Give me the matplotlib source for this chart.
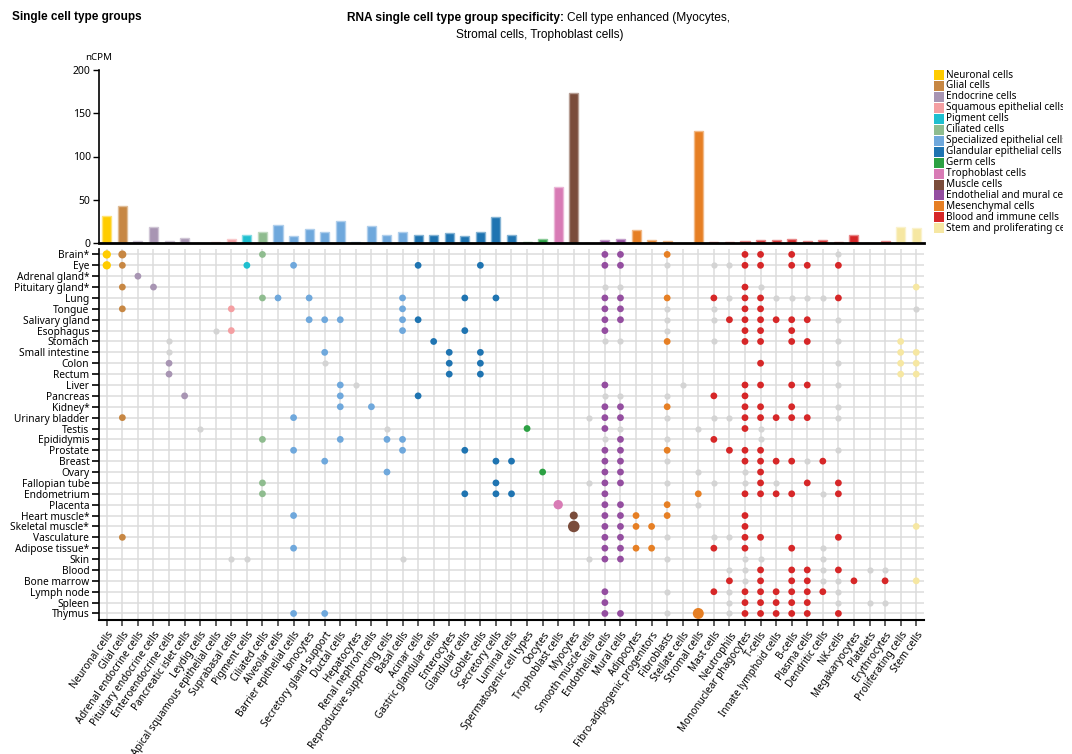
import numpy as np
import matplotlib
matplotlib.use("Agg")
import matplotlib.pyplot as plt
from matplotlib.colors import to_rgb
from matplotlib.patches import Rectangle
from matplotlib.transforms import Bbox, TransformedBbox

plt.rcParams['font.family'] = ['Noto Sans', 'DejaVu Sans']
TITLE_FONT = ['Liberation Sans', 'DejaVu Sans']

# ---- data ----
cell_types = [
    "Neuronal cells", "Glial cells", "Adrenal endocrine cells", "Pituitary endocrine cells",
    "Enteroendocrine cells", "Pancreatic islet cells", "Leydig cells",
    "Apical squamous epithelial cells", "Suprabasal cells", "Pigment cells", "Ciliated cells",
    "Alveolar cells", "Barrier epithelial cells", "Ionocytes", "Secretory gland support",
    "Ductal cells", "Hepatocytes", "Renal nephron cells", "Reproductive supporting cells",
    "Basal cells", "Acinar cells", "Gastric glandular cells", "Enterocytes", "Glandular cells",
    "Goblet cells", "Secretory cells", "Luminal cells", "Spermatogenic cell types", "Oocytes",
    "Trophoblast cells", "Myocytes", "Smooth muscle cells", "Endothelial cells", "Mural cells",
    "Adipocytes", "Fibro-adipogenic progenitors", "Fibroblasts", "Stellate cells",
    "Stromal cells", "Mast cells", "Neutrophils", "Mononuclear phagocytes", "T-cells",
    "Innate lymphoid cells", "B-cells", "Plasma cells", "Dendritic cells", "NK-cells",
    "Megakaryocytes", "Platelets", "Erythrocytes", "Proliferating cells", "Stem cells",
]

group_names = [
    "Neuronal cells", "Glial cells", "Endocrine cells", "Squamous epithelial cells",
    "Pigment cells", "Ciliated cells", "Specialized epithelial cells",
    "Glandular epithelial cells", "Germ cells", "Trophoblast cells", "Muscle cells",
    "Endothelial and mural cells", "Mesenchymal cells", "Blood and immune cells",
    "Stem and proliferating cells",
]
group_colors = [
    "#FFCC00", "#C78743", "#A895B3", "#F49FA2", "#1FBFCF", "#8FBC8F", "#6FA8DC",
    "#1F74B1", "#2CA043", "#D87BB5", "#7A4C3B", "#944EA0", "#E67F24", "#D62728",
    "#F6E7A2",
]
group_counts = [1, 1, 5, 2, 1, 1, 9, 7, 2, 1, 2, 2, 5, 12, 2]

ncpm = [31.5, 43, 2, 18.5, 2.3, 5.4, 0.3, 1, 5, 9.2, 12.3, 20.8, 8.5, 16, 12.7, 25,
        1.2, 19.6, 9.2, 12.7, 8.8, 9.6, 11.2, 8.5, 12.3, 30, 9, 1.5, 5, 64.6, 173,
        0.2, 3.5, 5, 15, 3.5, 2, 0, 129, 1.2, 0.8, 2.3, 3.5, 3.5, 5, 2.7, 3.5, 1.2,
        8.8, 0, 2.3, 18.5, 17.7]

tissues = [
    "Brain*", "Eye", "Adrenal gland*", "Pituitary gland*", "Lung", "Tongue",
    "Salivary gland", "Esophagus", "Stomach", "Small intestine", "Colon", "Rectum",
    "Liver", "Pancreas", "Kidney*", "Urinary bladder", "Testis", "Epididymis",
    "Prostate", "Breast", "Ovary", "Fallopian tube", "Endometrium", "Placenta",
    "Heart muscle*", "Skeletal muscle*", "Vasculature", "Adipose tissue*", "Skin",
    "Blood", "Bone marrow", "Lymph node", "Spleen", "Thymus",
]

# 1-based positions in cell_types: enhanced (group colour) and detected (grey)
enhanced = [
    [1, 2, 11, 33, 34, 37, 42, 43, 45],
    [1, 2, 10, 13, 21, 25, 33, 34, 42, 43, 45, 46, 48],
    [3],
    [2, 4, 42, 53],
    [11, 12, 14, 20, 24, 26, 33, 34, 37, 40, 42, 43, 48],
    [2, 9, 20, 33, 34, 42, 43],
    [14, 15, 16, 20, 21, 33, 34, 41, 42, 43, 44, 45, 46],
    [9, 20, 24, 33, 42, 43, 45],
    [22, 37, 42, 43, 45, 46, 52],
    [15, 23, 25, 52, 53],
    [5, 23, 25, 43, 52, 53],
    [5, 23, 25, 52, 53],
    [16, 33, 42, 43, 45, 46],
    [6, 16, 21, 40, 42],
    [16, 18, 33, 34, 37, 42, 43, 45],
    [2, 13, 33, 34, 42, 43, 44, 45, 46],
    [28, 33, 42],
    [11, 16, 19, 20, 34, 40],
    [13, 20, 24, 33, 34, 37, 41, 42, 43],
    [15, 26, 27, 33, 34, 42, 43, 44, 45, 47],
    [19, 29, 33, 34, 43],
    [11, 26, 33, 34, 43, 46, 48],
    [11, 24, 26, 27, 33, 39, 42, 43, 44, 45, 48],
    [30, 33, 34, 37],
    [13, 31, 33, 34, 35, 37, 42],
    [31, 33, 34, 35, 36, 42, 53],
    [2, 33, 34, 42, 43, 48],
    [13, 33, 34, 35, 36, 40, 42, 45],
    [33, 34],
    [43, 45, 46, 48],
    [41, 43, 45, 46, 49, 51, 53],
    [33, 40, 42, 43, 44, 45, 46, 47],
    [33, 42, 43, 44, 45, 46],
    [13, 15, 33, 34, 39, 42, 43, 44, 45, 46, 48],
]
detected = [
    [48],
    [37, 40, 41],
    [],
    [33, 34, 43],
    [41, 44, 45, 46, 47],
    [37, 40, 53],
    [37, 40, 48],
    [8, 37],
    [5, 33, 34, 40, 48],
    [5],
    [15, 48],
    [],
    [17, 38, 48],
    [33, 34, 37],
    [48],
    [32, 37, 40, 41, 48],
    [7, 19, 34, 39, 43],
    [33, 37, 43],
    [48],
    [37, 46],
    [39, 42],
    [32, 37, 40, 42, 44],
    [47],
    [39],
    [],
    [],
    [37, 40, 41],
    [47],
    [9, 10, 20, 32, 37, 42, 43, 47],
    [41, 42, 47, 50, 51],
    [42, 47, 48],
    [37, 41, 48],
    [41, 48, 50, 51],
    [37, 41],
]
# relative dot size for the few strongly expressed cells (default 1)
dot_level = {
    ("Brain*", 1): 1.5, ("Eye", 1): 1.5, ("Brain*", 2): 1.4,
    ("Placenta", 30): 1.9, ("Heart muscle*", 31): 1.4,
    ("Skeletal muscle*", 31): 2.9, ("Thymus", 39): 2.6,
}

# ---- layout ----
W, H = 1072, 754
fig = plt.figure(figsize=(W / 100, H / 100), dpi=100)


def px_axes(x0, y0, x1, y1):
    return fig.add_axes([x0 / W, 1 - y1 / H, (x1 - x0) / W, (y1 - y0) / H])


cell_colors = np.repeat(group_colors, group_counts)
x = np.arange(len(cell_types))


def lighten(c, f=0.45):
    r = np.array(to_rgb(c))
    return tuple(r + (1 - r) * f)


# bar chart
axb = px_axes(99, 70, 924, 243)
axb.bar(x, ncpm, width=0.58, color=cell_colors,
        edgecolor=[lighten(c) for c in cell_colors], linewidth=1.0)
axb.set_xlim(-0.5, len(cell_types) - 0.5)
axb.set_ylim(0, 200)
axb.set_yticks([0, 50, 100, 150, 200])
axb.tick_params(axis='y', labelsize=7.5, length=4, width=1, pad=2)
axb.set_xticks([])
for s in ['top', 'right']:
    axb.spines[s].set_visible(False)
axb.spines['left'].set_linewidth(1.2)
axb.spines['bottom'].set_linewidth(2)
fig.text(99 / W, 1 - 58 / H, "nCPM", fontsize=7, ha='center', va='center')

# dot matrix
axm = px_axes(99, 249, 924, 620)
axm.set_xlim(-0.5, len(cell_types) - 0.5)
axm.set_ylim(len(tissues) - 0.4, -0.5)
axm.set_axisbelow(True)
axm.grid(True, color='#dcdcdc', linewidth=1.1)

gx, gy, cx, cy, cc, cs = [], [], [], [], [], []
for r, t in enumerate(tissues):
    for c in detected[r]:
        gx.append(c - 1)
        gy.append(r)
    for c in enhanced[r]:
        cx.append(c - 1)
        cy.append(r)
        cc.append(cell_colors[c - 1])
        cs.append(24 * dot_level.get((t, c), 1.0))
axm.scatter(gx, gy, s=20, color='#d4d4d4', linewidths=0, zorder=3)
axm.scatter(cx, cy, s=cs, c=cc, linewidths=0, zorder=4)

axm.set_yticks(range(len(tissues)))
axm.set_yticklabels(tissues, fontsize=7.3)
axm.set_xticks(x)
axm.set_xticklabels(cell_types, fontsize=7.2, rotation=55, ha='right', va='top',
                    rotation_mode='anchor')
axm.tick_params(axis='y', length=5, width=1.2, pad=2)
axm.tick_params(axis='x', length=4, width=1.2, pad=3, color='#444444')
for s in ['top', 'right']:
    axm.spines[s].set_visible(False)
axm.spines['left'].set_linewidth(1.2)
axm.spines['bottom'].set_linewidth(1.5)

# titles
fig.text(12 / W, 1 - 17 / H, "Single cell type groups", fontsize=8.5, family=TITLE_FONT,
         fontweight='bold', ha='left', va='center')
fig.text(564 / W, 1 - 18 / H, "RNA single cell type group specificity:", fontsize=8.6,
         family=TITLE_FONT, fontweight='bold', ha='right', va='center')
fig.text(567 / W, 1 - 18 / H, "Cell type enhanced (Myocytes,", fontsize=8.6,
         family=TITLE_FONT, ha='left', va='center')
fig.text(540 / W, 1 - 35 / H, "Stromal cells, Trophoblast cells)", fontsize=8.6,
         family=TITLE_FONT, ha='center', va='center')

# legend (clipped at the right like the original)
clip = TransformedBbox(Bbox([[0, 0], [1063 / W, 1]]), fig.transFigure)
for k, (name, col) in enumerate(zip(group_names, group_colors)):
    yc = 75 + k * 10.95
    fig.add_artist(Rectangle((934 / W, 1 - (yc + 5) / H), 10 / W, 10 / H,
                             transform=fig.transFigure, color=col, lw=0))
    t = fig.text(946 / W, 1 - yc / H, name, fontsize=7.2, ha='left', va='center')
    t.set_clip_box(clip)
    t.set_clip_on(True)

fig.savefig("out.png", dpi=100)
